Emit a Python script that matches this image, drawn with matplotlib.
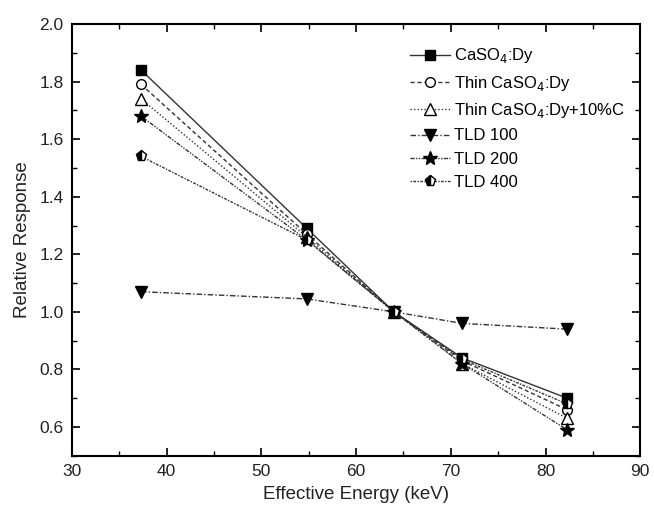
import matplotlib
matplotlib.use("Agg")
import matplotlib.pyplot as plt
from matplotlib.ticker import MultipleLocator

plt.rcParams['font.family'] = ['Liberation Sans', 'DejaVu Sans']

energy = [37.3, 54.8, 64.0, 71.2, 82.3]
caso4 = [1.84, 1.29, 1.00, 0.84, 0.70]
thin_caso4 = [1.79, 1.27, 1.00, 0.83, 0.66]
thin_caso4_c = [1.74, 1.26, 1.00, 0.82, 0.63]
tld100 = [1.07, 1.045, 1.00, 0.96, 0.94]
tld200 = [1.68, 1.25, 1.00, 0.82, 0.59]
tld400 = [1.54, 1.25, 1.00, 0.835, 0.68]
labels = ["CaSO$_4$:Dy", "Thin CaSO$_4$:Dy", "Thin CaSO$_4$:Dy+10%C",
          "TLD 100", "TLD 200", "TLD 400"]

fig = plt.figure(figsize=(6.54, 5.11), dpi=100)
ax = fig.add_axes([0.110, 0.108, 0.869, 0.845])

lc = '#333333'
ax.plot(energy, caso4, color=lc, lw=1.0, ls='-', marker='s', ms=7,
        mfc='black', mec='black', label=labels[0])
ax.plot(energy, thin_caso4, color=lc, lw=1.0, ls=(0, (3, 2)), marker='o', ms=7,
        mfc='white', mec='black', label=labels[1])
ax.plot(energy, thin_caso4_c, color=lc, lw=1.0, ls=(0, (1, 1.5)), marker='^', ms=8,
        mfc='white', mec='black', label=labels[2])
ax.plot(energy, tld100, color=lc, lw=1.0, ls=(0, (4, 1.5, 1, 1.5)), marker='v', ms=8,
        mfc='black', mec='black', label=labels[3])
ax.plot(energy, tld200, color=lc, lw=1.0, ls=(0, (3, 1, 1, 1, 1, 1)), marker='*', ms=10,
        mfc='black', mec='black', label=labels[4])
ax.plot(energy, tld400, color=lc, lw=1.0, ls=(0, (1, 1, 2, 1)), marker='p', ms=8,
        mfc='black', mec='black', fillstyle='left', markerfacecoloralt='white',
        label=labels[5])

ax.set_xlim(30, 90)
ax.set_ylim(0.5, 2.0)
ax.xaxis.set_major_locator(MultipleLocator(10))
ax.xaxis.set_minor_locator(MultipleLocator(5))
ax.yaxis.set_minor_locator(MultipleLocator(0.1))
ax.set_yticks([0.6, 0.8, 1.0, 1.2, 1.4, 1.6, 1.8, 2.0])
ax.tick_params(which='both', direction='in', top=True, right=True,
               labelsize=12.5, colors='black', labelcolor='#222222')
ax.tick_params(which='major', length=6, width=1.2, pad=6)
ax.tick_params(which='minor', length=3.5, width=1.0)
for s in ax.spines.values():
    s.set_linewidth(1.5)

ax.set_xlabel("Effective Energy (keV)", fontsize=13.5, color='#222222', labelpad=5)
ax.set_ylabel("Relative Response", fontsize=13.5, color='#222222', labelpad=6)

leg = ax.legend(loc='upper left', bbox_to_anchor=(0.595, 0.948), frameon=False,
                fontsize=12, handlelength=2.4, handletextpad=0.25,
                labelspacing=0.5, borderaxespad=0, borderpad=0)

fig.savefig("out.png", dpi=100)
